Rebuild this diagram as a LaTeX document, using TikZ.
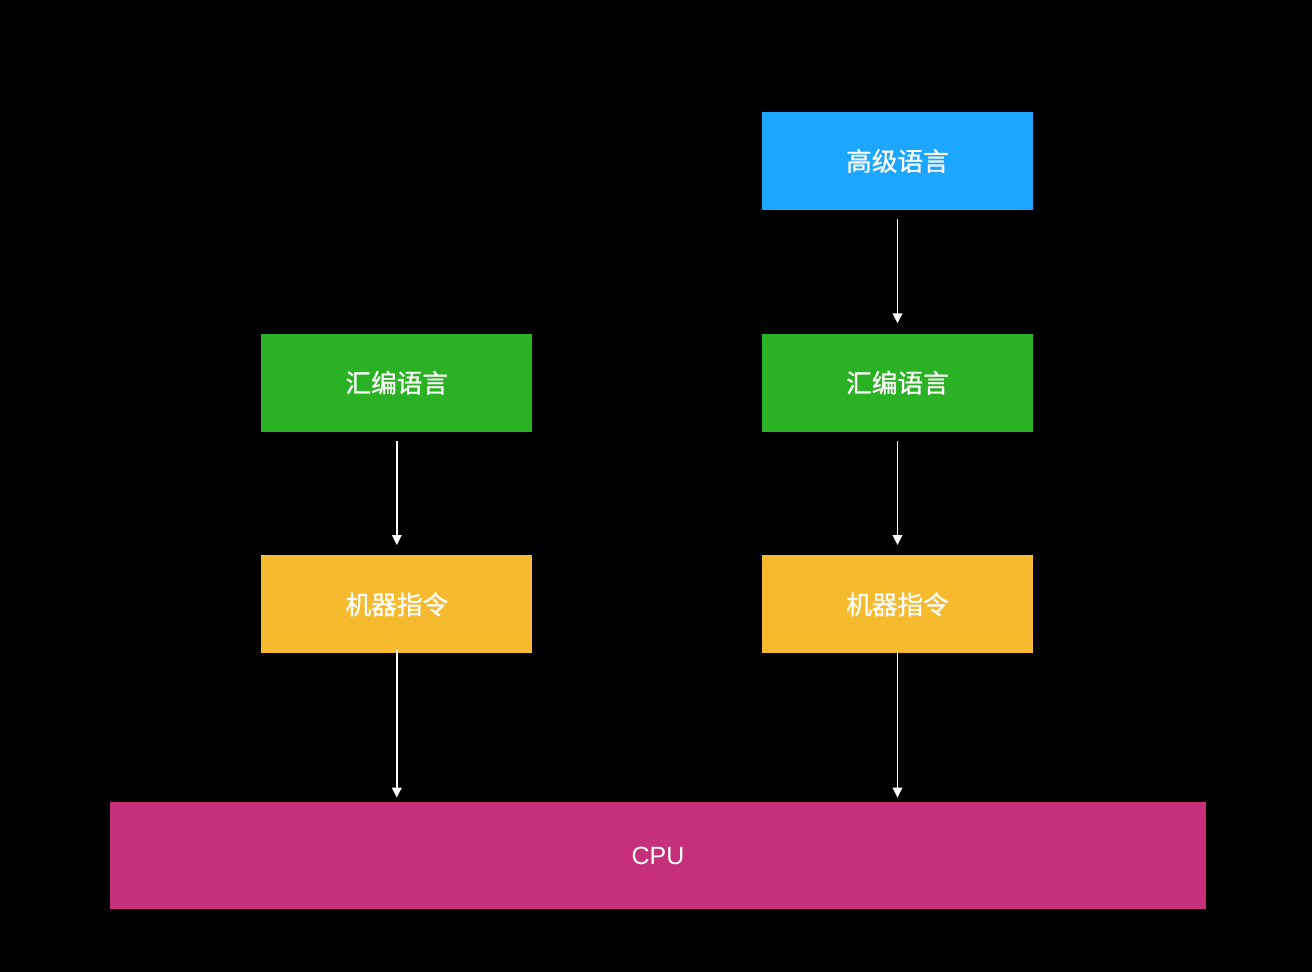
\documentclass[tikz,border=0pt]{standalone}
\usepackage{fontspec}
\setsansfont{Liberation Sans}
\newfontfamily\cjk[FakeBold=0.9]{Noto Sans CJK SC}
\usepackage{xcolor}
\usetikzlibrary{positioning,arrows.meta,calc}

\definecolor{hlblue}{HTML}{1CA6FF}
\definecolor{asmgreen}{HTML}{2BB124}
\definecolor{mcorange}{HTML}{F5BA2E}
\definecolor{cpupink}{HTML}{C6307A}

\begin{document}
\begin{tikzpicture}[
        node distance=2.46cm and 4.58cm,
        box/.style={rectangle, minimum width=5.42cm, minimum height=1.96cm, inner sep=0pt, align=center, text=white, font=\fontsize{14.6}{17}\selectfont\cjk},
        hll/.style={box, fill=hlblue},
        asm/.style={box, fill=asmgreen},
        mcode/.style={box, fill=mcorange},
        cpubox/.style={rectangle, fill=cpupink, minimum width=21.92cm, minimum height=2.14cm, inner sep=0pt, text=white, font=\fontsize{14.2}{17}\selectfont\sffamily},
        arr/.style={-{Triangle[length=0.2cm, width=0.19cm]}, white, line width=1.05pt},
    ]

    % page
    \fill[black] (0,0) rectangle (26.24,-19.44);
    \useasboundingbox (0,0) rectangle (26.24,-19.44);

    % right column
    \node[hll] (high) at (17.95,-3.22) {高级语言};
    \node[asm, below=of high] (asmR) {汇编语言};
    \node[mcode, below=of asmR] (mcR) {机器指令};

    % left column
    \node[asm, left=of asmR] (asmL) {汇编语言};
    \node[mcode, left=of mcR] (mcL) {机器指令};

    % cpu
    \node[cpubox] (cpu) at (13.16,-17.11) {CPU};

    \draw[arr, shorten <=0.18cm, shorten >=0.2cm] (high) -- (asmR);
    \draw[arr, shorten <=0.18cm, shorten >=0.2cm] (asmR) -- (mcR);
    \draw[arr, shorten <=0.18cm, shorten >=0.2cm] (asmL) -- (mcL);
    \draw[arr, shorten <=-0.08cm, shorten >=0.08cm] (mcL.south) -- (mcL.south |- cpu.north);
    \draw[arr, shorten <=-0.08cm, shorten >=0.08cm] (mcR.south) -- (mcR.south |- cpu.north);

\end{tikzpicture}
\end{document}
